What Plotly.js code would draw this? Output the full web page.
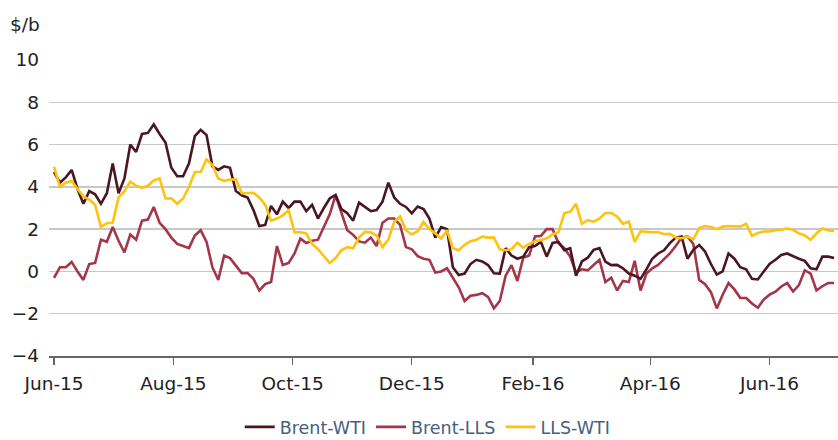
<!DOCTYPE html>
<html>
<head>
<meta charset="utf-8">
<script src="https://cdn.plot.ly/plotly-3.0.1.min.js"></script>
<style>html,body{margin:0;padding:0;background:#fff;}#chart{width:838px;height:440px;}</style>
</head>
<body>
<div id="chart"></div>
<script>
// Sample dates: every 3 days starting 1 Jun 2015
const startDate = "2015-06-01";
const stepDays = 3;

const brentWTI = [4.7,4.2,4.45,4.8,3.9,3.2,3.8,3.65,3.2,3.7,
5.1,3.7,4.4,6.0,5.65,6.5,6.55,6.95,6.5,6.1,
4.9,4.5,4.5,5.1,6.4,6.7,6.45,4.97,4.8,4.97,
4.9,3.8,3.6,3.5,2.9,2.15,2.2,3.1,2.7,3.3,
3.0,3.3,3.3,2.85,3.15,2.5,3.0,3.45,3.62,2.95,
2.75,2.4,3.25,3.05,2.85,2.9,3.3,4.2,3.5,3.2,
3.05,2.75,3.07,2.95,2.5,1.6,2.1,2.0,0.2,-0.17,
-0.1,0.35,0.55,0.47,0.3,-0.09,-0.1,1.1,0.75,0.6,
0.7,1.15,1.2,1.4,0.7,1.35,1.4,1.0,1.1,-0.2,
0.47,0.65,1.02,1.1,0.47,0.3,0.31,0.15,-0.1,-0.2,
-0.35,0.1,0.6,0.85,1.0,1.34,1.6,1.65,0.6,1.02,
1.25,0.94,0.35,-0.15,0.0,0.85,0.6,0.2,0.1,-0.35,
-0.38,0.0,0.35,0.55,0.78,0.85,0.72,0.6,0.5,0.15,
0.1,0.7,0.7,0.63];

const brentLLS = [-0.3,0.2,0.2,0.45,0.0,-0.4,0.35,0.4,1.5,1.4,
2.1,1.45,0.9,1.75,1.5,2.4,2.45,3.05,2.3,2.0,
1.6,1.3,1.2,1.1,1.7,1.95,1.4,0.2,-0.4,0.75,
0.63,0.3,-0.08,-0.08,-0.35,-0.9,-0.6,-0.5,1.2,0.3,
0.4,0.85,1.55,1.34,1.45,1.5,2.12,2.7,3.6,2.8,
1.95,1.73,1.42,1.36,1.6,1.2,2.3,2.5,2.5,2.2,
1.15,1.05,0.72,0.6,0.55,-0.05,0.0,0.15,-0.3,-0.75,
-1.4,-1.15,-1.11,-1.03,-1.2,-1.75,-1.4,-0.2,0.3,-0.45,
0.65,0.75,1.65,1.68,2.0,2.0,1.34,1.1,0.7,-0.05,
0.1,0.05,0.3,0.55,-0.5,-0.3,-0.9,-0.45,-0.5,0.5,
-0.9,-0.1,0.15,0.31,0.58,0.85,1.2,1.6,1.65,1.3,
-0.4,-0.6,-0.98,-1.75,-1.1,-0.55,-0.85,-1.25,-1.26,-1.52,
-1.72,-1.33,-1.1,-0.96,-0.71,-0.55,-0.95,-0.65,0.05,-0.1,
-0.9,-0.7,-0.55,-0.55];

const llsWTI = [4.95,4.0,4.2,4.28,3.9,3.55,3.4,3.15,2.1,2.28,
2.3,3.5,3.8,4.25,4.05,3.96,4.05,4.3,4.4,3.45,
3.46,3.2,3.45,4.0,4.7,4.7,5.3,5.03,4.4,4.28,
4.35,4.36,3.7,3.7,3.72,3.5,3.15,2.4,2.5,2.65,
2.9,1.85,1.85,1.8,1.3,1.05,0.75,0.4,0.63,1.0,
1.15,1.1,1.6,1.87,1.85,1.7,1.15,1.5,2.35,2.6,
1.95,1.75,1.9,2.35,2.0,1.8,1.55,1.95,1.1,1.0,
1.26,1.43,1.5,1.65,1.6,1.6,1.05,1.0,1.05,1.35,
1.12,1.3,1.43,1.48,1.57,1.75,1.85,2.76,2.82,3.2,
2.25,2.42,2.35,2.5,2.76,2.76,2.6,2.25,2.36,1.4,
1.9,1.87,1.85,1.86,1.76,1.78,1.6,1.57,1.65,1.52,
2.05,2.15,2.1,2.0,2.12,2.15,2.15,2.12,2.26,1.68,
1.82,1.89,1.89,1.95,1.97,2.03,1.97,1.8,1.7,1.5,
1.8,2.03,1.95,1.9];

const yTicks = [-4,-2,0,2,4,6,8,10];
const xTickVals = ["2015-06-01","2015-08-01","2015-10-01","2015-12-01","2016-02-01","2016-04-01","2016-06-01"];
const xTickText = ["Jun-15","Aug-15","Oct-15","Dec-15","Feb-16","Apr-16","Jun-16"];

function buildDates(n){
  const out = [];
  const t0 = Date.UTC(2015,5,1);
  for(let i=0;i<n;i++){
    const d = new Date(t0 + i*stepDays*86400000);
    out.push(d.toISOString().slice(0,10));
  }
  return out;
}
const dates = buildDates(brentWTI.length);

const font = "DejaVu Sans, sans-serif";
const fs = 18.5;

const traces = [
  {x:dates, y:brentLLS, name:"Brent-LLS", type:"scatter", mode:"lines",
   line:{color:"#a3364a", width:2.6}, legendrank:2},
  {x:dates, y:brentWTI, name:"Brent-WTI", type:"scatter", mode:"lines",
   line:{color:"#4a1622", width:2.6}, legendrank:1},
  {x:dates, y:llsWTI, name:"LLS-WTI", type:"scatter", mode:"lines",
   line:{color:"#ffc20e", width:2.6}, legendrank:3}
];

const layout = {
  width:838, height:440,
  margin:{l:49, r:0, t:60, b:84, autoexpand:false},
  paper_bgcolor:"#ffffff", plot_bgcolor:"#ffffff",
  font:{family:font, size:fs, color:"#222222"},
  showlegend:true,
  legend:{orientation:"h", x:0.48, xanchor:"center", y:-0.24, yanchor:"middle",
    font:{family:font, size:17.5, color:"#46607f"}, traceorder:"normal",
    itemwidth:30, tracegroupgap:0},
  xaxis:{type:"date", range:["2015-05-29 10:00","2016-07-06"],
    tickvals:xTickVals, ticktext:xTickText,
    showgrid:false, zeroline:false, automargin:false,
    showline:true, linecolor:"#666666", linewidth:1.5,
    ticks:"outside", ticklen:7, tickcolor:"#666666", tickwidth:1.3,
    ticklabelstandoff:3,
    tickfont:{family:font, size:fs, color:"#222222"}},
  yaxis:{range:[-4,10], tickvals:yTicks, showgrid:true, gridcolor:"#c8c8c8", gridwidth:1.3,
    zeroline:false, showline:false, ticks:"", ticklabelstandoff:9, automargin:false,
    tickfont:{family:font, size:fs, color:"#222222"}},
  annotations:[{text:"$/b", xref:"paper", yref:"paper", x:-0.052, y:1.12,
    xanchor:"left", yanchor:"middle", showarrow:false,
    font:{family:font, size:fs, color:"#222222"}}]
};

Plotly.newPlot("chart", traces, layout, {displayModeBar:false, staticPlot:true});
</script>
</body>
</html>
